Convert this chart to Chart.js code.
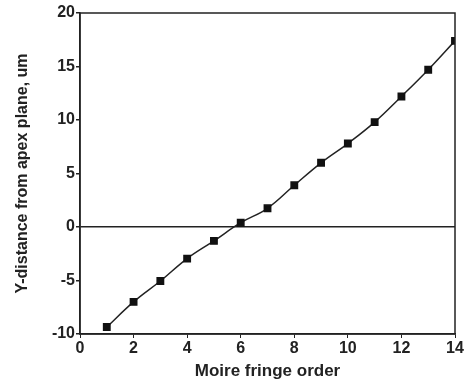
<!DOCTYPE html>
<html><head><meta charset="utf-8">
<script src="https://cdn.jsdelivr.net/npm/chart.js@4/dist/chart.umd.min.js"></script>
<style>html,body{margin:0;padding:0;background:#fff}#w{width:465px;height:384px}</style>
</head><body><div id="w"><canvas id="c"></canvas></div>
<script>
const fringeOrder = [1,2,3,4,5,6,7,8,9,10,11,12,13,14];
const yDistance = [-9.35,-7.0,-5.05,-2.95,-1.3,0.4,1.75,3.9,6.0,7.8,9.8,12.2,14.7,17.4];
const xTitle = 'Moire fringe order';
const yTitle = 'Y-distance from apex plane, um';

const frame = {
  id:'frame',
  afterDraw(chart){
    const a = chart.chartArea, c = chart.ctx;
    c.save(); c.strokeStyle='#222'; c.lineWidth=1.5;
    c.strokeRect(a.left,a.top,a.right-a.left,a.bottom-a.top);
    c.restore();
  }
};
const fam = '"Liberation Sans", Arial, sans-serif';
const tickFont = {family:fam, size:16, weight:'bold'};
new Chart(document.getElementById('c'),{
  type:'scatter',
  data:{datasets:[{
    data: fringeOrder.map((x,i)=>({x, y:yDistance[i]})),
    showLine:true, borderColor:'#222', borderWidth:1.5,
    tension:0.4,
    pointStyle:'rect', pointRadius:4.5, pointBackgroundColor:'#111', pointBorderColor:'#111'
  }]},
  options:{
    responsive:true, maintainAspectRatio:false, animation:false,
    layout:{padding:{top:13,right:10,left:0,bottom:0}},
    plugins:{legend:{display:false}, tooltip:{enabled:false}},
    scales:{
      x:{type:'linear', min:0, max:14,
        ticks:{stepSize:2, color:'#222', font:tickFont, padding:1, maxRotation:0},
        grid:{drawOnChartArea:false, tickLength:4, tickColor:'#222'},
        border:{color:'#222', width:1.5},
        title:{display:true, text:xTitle, color:'#222', font:{family:fam, size:17, weight:'bold'}, padding:{top:0,bottom:2}},
        afterFit(s){ s.height = 50; }
      },
      y:{min:-10, max:20,
        ticks:{stepSize:5, color:'#222', font:tickFont, padding:1},
        grid:{color:ctx=>ctx.tick && ctx.tick.value===0 ? '#222':'transparent', lineWidth:1.5, tickLength:4, tickColor:'#222'},
        border:{color:'#222', width:1.5},
        title:{display:true, text:yTitle, color:'#222', font:{family:fam, size:16, weight:'bold'}, padding:{top:13,bottom:0}},
        afterFit(s){ s.width = 80; }
      }
    }
  },
  plugins:[frame]
});
</script></body></html>
